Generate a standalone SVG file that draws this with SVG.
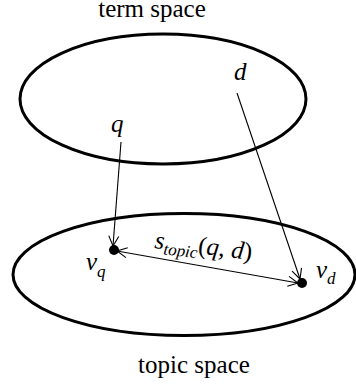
<svg xmlns="http://www.w3.org/2000/svg" width="356" height="385" viewBox="0 0 356 385">
<style>
.sp{fill:none;stroke:#000;stroke-width:3}
.ln{fill:none;stroke:#000;stroke-width:1.1}
text{font-family:'Liberation Serif','Times New Roman','DejaVu Serif',serif;font-size:25px;fill:#000}
.i{font-style:italic}
.sub{font-size:17px}
.n{font-style:normal}
</style>
<defs>
<marker id="ah" viewBox="0 0 12 12" refX="11" refY="6" markerWidth="12" markerHeight="12" markerUnits="userSpaceOnUse" orient="auto-start-reverse">
<path d="M1,1 L11,6 L1,11" fill="none" stroke="#000" stroke-width="1.1"/>
</marker>
</defs>
<g id="term-space">
<ellipse class="sp" cx="163" cy="99" rx="143" ry="65"/>
<text x="152" y="17" text-anchor="middle" font-family="Liberation Serif, serif">term space</text>
</g>
<g id="topic-space">
<ellipse class="sp" cx="184" cy="274.5" rx="171" ry="61"/>
<text x="194" y="373" text-anchor="middle" font-family="Liberation Serif, serif">topic space</text>
</g>
<g id="q">
<text class="i" x="111" y="132" font-family="Liberation Serif, serif">q</text>
</g>
<g id="d">
<text class="i" x="234" y="80" font-family="Liberation Serif, serif">d</text>
</g>
<g id="vq">
<circle cx="114" cy="250" r="5"/>
<text class="i" x="86" y="270" font-family="Liberation Serif, serif">v<tspan class="sub" dy="7">q</tspan></text>
</g>
<g id="vd">
<circle cx="302" cy="283" r="5"/>
<text class="i" x="316" y="278" font-family="Liberation Serif, serif">v<tspan class="sub" dy="6">d</tspan></text>
</g>
<g id="connectors">
<line class="ln" x1="121" y1="142" x2="113" y2="246" marker-end="url(#ah)"/>
<line class="ln" x1="237" y1="93" x2="300" y2="279" marker-end="url(#ah)"/>
<line class="ln" x1="117" y1="251" x2="298" y2="283" marker-start="url(#ah)" marker-end="url(#ah)"/>
<text class="i" transform="translate(154,248) rotate(7)" font-family="Liberation Serif, serif">s<tspan class="sub" dy="5">topic</tspan><tspan class="n" dy="-5">(</tspan>q<tspan class="n">, </tspan>d<tspan class="n">)</tspan></text>
</g>
</svg>
